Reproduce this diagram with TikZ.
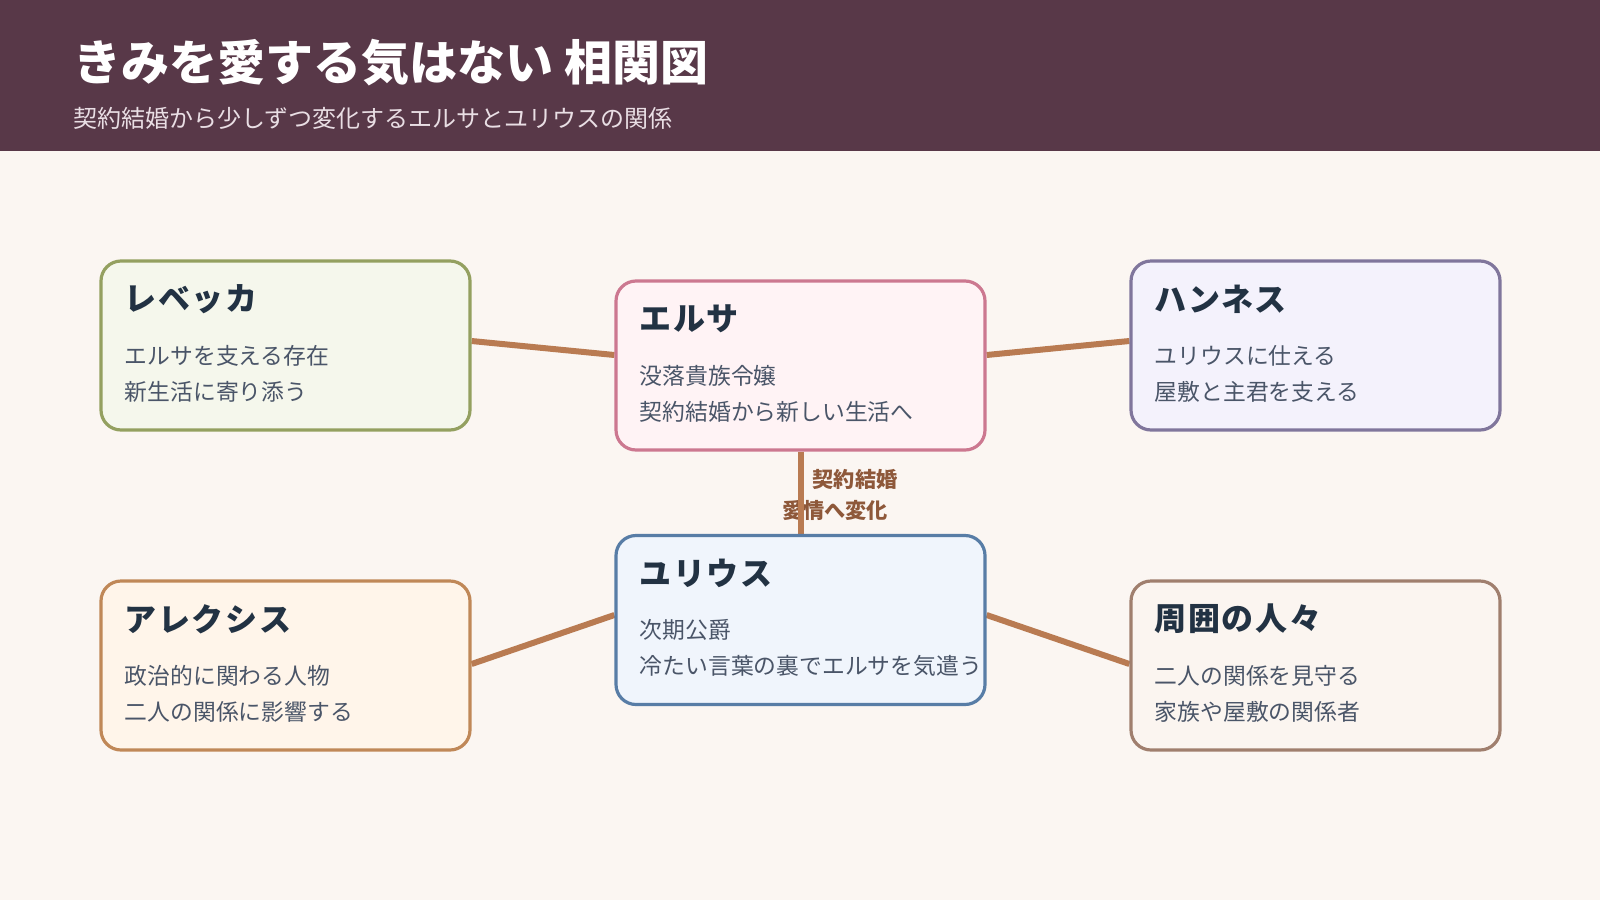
\documentclass[tikz,border=0pt]{standalone}
\usepackage{fontspec}
\setmainfont{Noto Sans CJK JP}
\newfontfamily\cardtitlefont[LetterSpace=5]{Noto Sans CJK JP}
\usetikzlibrary{calc}
\definecolor{bgc}{HTML}{FBF6F2}
\definecolor{headc}{HTML}{583848}
\definecolor{subc}{HTML}{E9DEE4}
\definecolor{linec}{HTML}{B97B52}
\definecolor{lblc}{HTML}{8E583A}
\definecolor{ttlc}{HTML}{223243}
\definecolor{bodyc}{HTML}{4A5568}
\definecolor{rebB}{HTML}{94A060}
\definecolor{rebF}{HTML}{F5F7EC}
\definecolor{elsB}{HTML}{CC7890}
\definecolor{elsF}{HTML}{FFF3F5}
\definecolor{hanB}{HTML}{80769C}
\definecolor{hanF}{HTML}{F4F2FC}
\definecolor{julB}{HTML}{587DA6}
\definecolor{julF}{HTML}{F0F5FC}
\definecolor{alxB}{HTML}{C08858}
\definecolor{alxF}{HTML}{FFF5EA}
\definecolor{surB}{HTML}{A07F6E}
\definecolor{surF}{HTML}{FBF5F0}
\pgfdeclarelayer{back}
\pgfdeclarelayer{lines}
\pgfsetlayers{back,lines,main}
\tikzset{
  card/.style={draw, rounded corners=10pt, line width=1.6pt, minimum width=184.5pt, minimum height=84.5pt, inner sep=0pt},
  ctitle/.style={anchor=west, inner sep=0pt, text=ttlc, font=\cardtitlefont\bfseries\fontsize{16pt}{19pt}\selectfont},
  cbody/.style={anchor=west, inner sep=0pt, text=bodyc, font=\fontsize{11.4pt}{14pt}\selectfont},
  lbl/.style={inner sep=0pt, text=lblc, font=\bfseries\fontsize{10.6pt}{12pt}\selectfont},
  conn/.style={draw=linec, line width=3pt}
}
\begin{document}
\begin{tikzpicture}[x=0.5pt,y=-0.5pt]
\useasboundingbox (0,0) rectangle (1600,900);
\begin{pgfonlayer}{back}
\fill[bgc] (0,0) rectangle (1600,900);
\fill[headc] (0,0) rectangle (1600,151);
\end{pgfonlayer}
\node[anchor=west, inner sep=0pt, text=white, font=\bfseries\fontsize{24pt}{28pt}\selectfont] (title) at (73,63) {きみを愛する気はない 相関図};
\node[anchor=west, inner sep=0pt, text=subc, font=\fontsize{12pt}{14pt}\selectfont] (sub) at (73,118) {契約結婚から少しずつ変化するエルサとユリウスの関係};

% cards
\node[card, draw=rebB, fill=rebF] (reb) at (285.5,345.5) {};
\node[ctitle] (rebT) at ($(reb.north west)+(25,39.5)$) {レベッカ};
\node[cbody] (rebA) at ($(reb.north west)+(25,96)$) {エルサを支える存在};
\node[cbody] (rebC) at ($(reb.north west)+(25,132)$) {新生活に寄り添う};

\node[card, draw=elsB, fill=elsF] (els) at (800.5,365.5) {};
\node[ctitle] (elsT) at ($(els.north west)+(25,39.5)$) {エルサ};
\node[cbody] (elsA) at ($(els.north west)+(25,96)$) {没落貴族令嬢};
\node[cbody] (elsC) at ($(els.north west)+(25,132)$) {契約結婚から新しい生活へ};

\node[card, draw=hanB, fill=hanF] (han) at (1315.5,345.5) {};
\node[ctitle] (hanT) at ($(han.north west)+(25,39.5)$) {ハンネス};
\node[cbody] (hanA) at ($(han.north west)+(25,96)$) {ユリウスに仕える};
\node[cbody] (hanC) at ($(han.north west)+(25,132)$) {屋敷と主君を支える};

\node[card, draw=julB, fill=julF] (jul) at (800.5,620) {};
\node[ctitle] (julT) at ($(jul.north west)+(25,39.5)$) {ユリウス};
\node[cbody] (julA) at ($(jul.north west)+(25,96)$) {次期公爵};
\node[cbody] (julC) at ($(jul.north west)+(25,132)$) {冷たい言葉の裏でエルサを気遣う};

\node[card, draw=alxB, fill=alxF] (alx) at (285.5,665.5) {};
\node[ctitle] (alxT) at ($(alx.north west)+(25,39.5)$) {アレクシス};
\node[cbody] (alxA) at ($(alx.north west)+(25,96)$) {政治的に関わる人物};
\node[cbody] (alxC) at ($(alx.north west)+(25,132)$) {二人の関係に影響する};

\node[card, draw=surB, fill=surF] (sur) at (1315.5,665.5) {};
\node[ctitle] (surT) at ($(sur.north west)+(25,39.5)$) {周囲の人々};
\node[cbody] (surA) at ($(sur.north west)+(25,96)$) {二人の関係を見守る};
\node[cbody] (surC) at ($(sur.north west)+(25,132)$) {家族や屋敷の関係者};

\begin{pgfonlayer}{lines}
\node[lbl] (l1) at (855,479) {契約結婚};
\node[lbl] (l2) at (835,510) {愛情へ変化};
\draw[conn] ([yshift=2.25pt]reb.east) -- ([yshift=5.25pt]els.west);
\draw[conn] ([yshift=5.25pt]els.east) -- ([yshift=2.25pt]han.west);
\draw[conn] (els.south) -- (jul.north);
\draw[conn] ([yshift=2.5pt]jul.west) -- ([yshift=0.75pt]alx.east);
\draw[conn] ([yshift=2.5pt]jul.east) -- ([yshift=0.75pt]sur.west);
\end{pgfonlayer}
\end{tikzpicture}
\end{document}
